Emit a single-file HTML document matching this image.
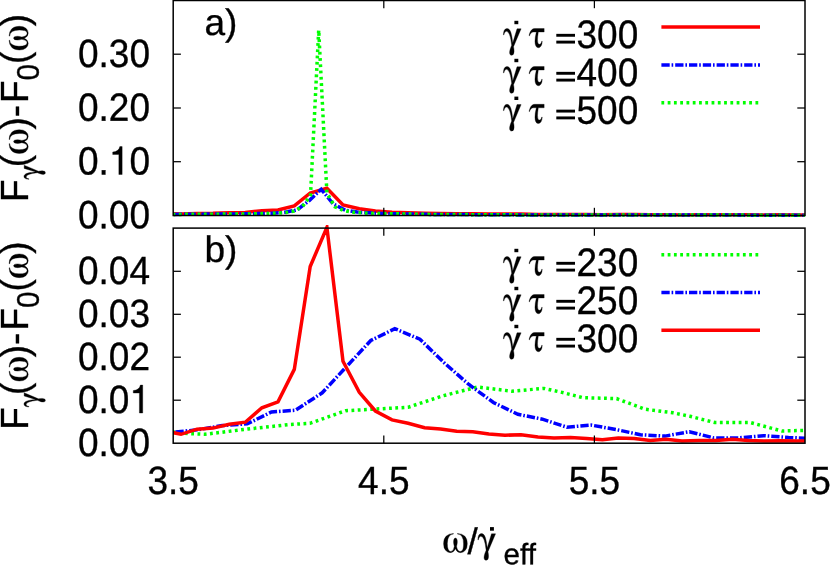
<!DOCTYPE html>
<html><head><meta charset="utf-8"><title>chart</title>
<style>html,body{margin:0;padding:0;background:#fff;}svg{display:block;will-change:transform;}text{fill:#000;stroke:#000;stroke-width:0.33px;font-family:"Liberation Sans", sans-serif;}</style></head><body>
<svg width="830" height="566" viewBox="0 0 830 566">
<rect width="830" height="566" fill="#fff"/>
<defs><clipPath id="c1"><rect x="173.2" y="-2.5" width="631.8" height="220.2"/></clipPath>
<clipPath id="c2"><rect x="173.2" y="225.1" width="631.8" height="220.1"/></clipPath></defs>
<g clip-path="url(#c1)">
<polyline points="165.1,213.6 181.0,214.0 197.0,213.4 213.0,213.3 229.3,212.8 245.3,212.5 261.9,210.7 278.0,210.0 294.3,205.9 310.2,193.0 326.9,188.2 343.0,204.9 359.3,208.8 375.4,211.1 392.0,212.2 408.1,212.7 424.6,213.2 440.6,213.4 456.7,213.7 472.8,213.7 488.9,214.0 505.0,214.1 521.0,214.1 538.0,214.4 554.0,214.5 570.6,214.4 586.5,214.5 602.4,214.7 618.3,214.5 634.2,214.5 650.2,214.8 666.1,214.7 682.0,214.9 699.0,214.8 715.9,214.8 732.4,214.7 748.3,214.8 764.5,214.9 780.7,214.8 796.9,214.9 813.1,214.9" fill="none" stroke="#ff0000" stroke-width="3.5" stroke-linejoin="miter" stroke-linecap="butt"/>
<polyline points="160.0,214.5 200.0,214.2 249.0,213.8 273.0,213.2 285.2,212.2 297.2,209.9 309.2,200.6 321.2,189.3 333.2,204.0 345.2,210.1 357.2,212.1 381.0,213.5 430.0,214.4 520.0,214.9 820.0,215.2" fill="none" stroke="#0000ff" stroke-width="3.5" stroke-linejoin="miter" stroke-linecap="butt" stroke-dasharray="8.3 1.9 1.6 2" stroke-dashoffset="0"/>
<polyline points="160.0,214.5 200.0,214.3 250.0,213.9 277.8,213.2 286.0,212.5 294.1,211.0 302.3,206.8 310.5,195.5 318.7,30.1 326.9,193.0 335.0,206.8 343.2,210.4 351.4,212.1 368.0,213.3 430.0,214.4 520.0,214.9 820.0,215.2" fill="none" stroke="#00ff00" stroke-width="3.5" stroke-linejoin="miter" stroke-linecap="butt" stroke-dasharray="2.8 3.47" stroke-dashoffset="0"/>
</g>
<rect x="173.2" y="0.5" width="631.8" height="215.0" fill="none" stroke="#000" stroke-width="1.5"/>
<line x1="383.8" y1="215.5" x2="383.8" y2="207.8" stroke="#000" stroke-width="1.25"/>
<line x1="383.8" y1="0.5" x2="383.8" y2="8.2" stroke="#000" stroke-width="1.25"/>
<line x1="594.4" y1="215.5" x2="594.4" y2="207.8" stroke="#000" stroke-width="1.25"/>
<line x1="594.4" y1="0.5" x2="594.4" y2="8.2" stroke="#000" stroke-width="1.25"/>
<line x1="173.2" y1="161.7" x2="180.9" y2="161.7" stroke="#000" stroke-width="1.25"/>
<line x1="805.0" y1="161.7" x2="797.3" y2="161.7" stroke="#000" stroke-width="1.25"/>
<line x1="173.2" y1="108.0" x2="180.9" y2="108.0" stroke="#000" stroke-width="1.25"/>
<line x1="805.0" y1="108.0" x2="797.3" y2="108.0" stroke="#000" stroke-width="1.25"/>
<line x1="173.2" y1="54.2" x2="180.9" y2="54.2" stroke="#000" stroke-width="1.25"/>
<line x1="805.0" y1="54.2" x2="797.3" y2="54.2" stroke="#000" stroke-width="1.25"/>
<g clip-path="url(#c2)">
<polyline points="160.0,431.0 173.0,432.0 190.0,433.7 205.0,434.3 248.0,429.0 290.0,424.5 310.0,423.3 345.7,410.7 408.0,407.3 443.0,395.8 477.4,387.0 511.8,391.2 544.0,388.4 562.0,392.4 583.0,397.7 616.6,398.6 645.0,409.2 673.0,412.8 690.0,416.3 714.7,422.5 750.0,422.5 782.0,431.0 812.0,430.2" fill="none" stroke="#00ff00" stroke-width="3.5" stroke-linejoin="miter" stroke-linecap="butt" stroke-dasharray="2.8 3.47" stroke-dashoffset="0"/>
<polyline points="148.0,434.5 172.6,432.3 197.4,429.8 222.3,425.6 247.2,423.9 271.5,412.0 295.5,410.2 322.2,392.8 346.5,366.6 370.8,340.5 394.8,328.7 419.9,339.2 444.4,363.0 468.9,384.5 493.4,402.5 517.9,414.3 542.4,419.2 566.9,427.2 591.0,425.1 615.9,429.5 640.4,434.8 664.9,436.1 689.4,431.7 713.9,437.9 738.4,437.9 763.5,435.7 788.5,437.5 813.0,438.6" fill="none" stroke="#0000ff" stroke-width="3.5" stroke-linejoin="miter" stroke-linecap="butt" stroke-dasharray="8.3 1.9 1.6 2" stroke-dashoffset="0"/>
<polyline points="165.1,431.0 181.0,434.3 197.0,429.2 213.0,428.1 229.3,424.2 245.3,422.2 261.9,407.8 278.0,401.9 294.3,369.4 310.2,266.5 326.9,227.4 343.0,361.2 359.3,392.3 375.4,411.0 392.0,419.9 408.1,423.3 424.6,427.7 440.6,429.0 456.7,431.3 472.8,431.8 488.9,434.1 505.0,435.2 521.0,434.8 538.0,437.1 554.0,437.9 570.6,437.5 586.5,438.4 602.4,439.8 618.3,437.9 634.2,438.4 650.2,440.5 666.1,439.3 682.0,441.0 699.0,440.4 715.9,440.6 732.4,439.3 748.3,440.4 764.5,441.0 780.7,440.8 796.9,441.0 813.1,441.0" fill="none" stroke="#ff0000" stroke-width="3.5" stroke-linejoin="miter" stroke-linecap="butt"/>
</g>
<rect x="173.2" y="228.1" width="631.8" height="215.1" fill="none" stroke="#000" stroke-width="1.5"/>
<line x1="383.8" y1="443.2" x2="383.8" y2="435.5" stroke="#000" stroke-width="1.25"/>
<line x1="383.8" y1="228.1" x2="383.8" y2="235.8" stroke="#000" stroke-width="1.25"/>
<line x1="594.4" y1="443.2" x2="594.4" y2="435.5" stroke="#000" stroke-width="1.25"/>
<line x1="594.4" y1="228.1" x2="594.4" y2="235.8" stroke="#000" stroke-width="1.25"/>
<line x1="173.2" y1="400.2" x2="180.9" y2="400.2" stroke="#000" stroke-width="1.25"/>
<line x1="805.0" y1="400.2" x2="797.3" y2="400.2" stroke="#000" stroke-width="1.25"/>
<line x1="173.2" y1="357.2" x2="180.9" y2="357.2" stroke="#000" stroke-width="1.25"/>
<line x1="805.0" y1="357.2" x2="797.3" y2="357.2" stroke="#000" stroke-width="1.25"/>
<line x1="173.2" y1="314.3" x2="180.9" y2="314.3" stroke="#000" stroke-width="1.25"/>
<line x1="805.0" y1="314.3" x2="797.3" y2="314.3" stroke="#000" stroke-width="1.25"/>
<line x1="173.2" y1="271.3" x2="180.9" y2="271.3" stroke="#000" stroke-width="1.25"/>
<line x1="805.0" y1="271.3" x2="797.3" y2="271.3" stroke="#000" stroke-width="1.25"/>
<text transform="translate(150.0,228.3) scale(1,1.065) rotate(0.03)" font-size="37.0" text-anchor="end">0.00</text>
<text transform="translate(108.9,174.5) scale(1,1.065) rotate(0.03)" font-size="37.0" text-anchor="end">0.</text>
<path transform="translate(108.86,174.53) scale(37.0,39.405)" d="M0.359,0 L0.359,-0.709 L0.296,-0.709 C0.280,-0.625 0.215,-0.578 0.104,-0.570 L0.104,-0.508 L0.270,-0.508 L0.270,0 Z" fill="#000" stroke="#000" stroke-width="0.0089"/>
<text transform="translate(150.0,174.5) scale(1,1.065) rotate(0.03)" font-size="37.0" text-anchor="end">0</text>
<text transform="translate(150.0,120.8) scale(1,1.065) rotate(0.03)" font-size="37.0" text-anchor="end">0.20</text>
<text transform="translate(150.0,67.0) scale(1,1.065) rotate(0.03)" font-size="37.0" text-anchor="end">0.30</text>
<text transform="translate(150.0,456.0) scale(1,1.065) rotate(0.03)" font-size="37.0" text-anchor="end">0.00</text>
<text transform="translate(129.4,413.0) scale(1,1.065) rotate(0.03)" font-size="37.0" text-anchor="end">0.0</text>
<path transform="translate(129.43,413.03) scale(37.0,39.405)" d="M0.359,0 L0.359,-0.709 L0.296,-0.709 C0.280,-0.625 0.215,-0.578 0.104,-0.570 L0.104,-0.508 L0.270,-0.508 L0.270,0 Z" fill="#000" stroke="#000" stroke-width="0.0089"/>
<text transform="translate(150.0,370.1) scale(1,1.065) rotate(0.03)" font-size="37.0" text-anchor="end">0.02</text>
<text transform="translate(150.0,327.1) scale(1,1.065) rotate(0.03)" font-size="37.0" text-anchor="end">0.03</text>
<text transform="translate(150.0,284.1) scale(1,1.065) rotate(0.03)" font-size="37.0" text-anchor="end">0.04</text>
<text transform="translate(173.2,494.0) scale(1,1.065) rotate(0.03)" font-size="37.0" text-anchor="middle">3.5</text>
<text transform="translate(383.8,494.0) scale(1,1.065) rotate(0.03)" font-size="37.0" text-anchor="middle">4.5</text>
<text transform="translate(594.4,494.0) scale(1,1.065) rotate(0.03)" font-size="37.0" text-anchor="middle">5.5</text>
<text transform="translate(805.0,494.0) scale(1,1.065) rotate(0.03)" font-size="37.0" text-anchor="middle">6.5</text>
<text transform="translate(204.5,35.0) scale(1,1.0) rotate(0.03)" font-size="37.0" text-anchor="start">a)</text>
<text transform="translate(204.5,262.0) scale(1,1.0) rotate(0.03)" font-size="37.0" text-anchor="start">b)</text>
<line x1="661.4" y1="26.9" x2="760.0" y2="26.9" stroke="#ff0000" stroke-width="3.5"/>
<path transform="matrix(0.04084,0,0,-0.03969,502.98,46.67)" d="M444 450 258 0Q272 -63 272 -118Q272 -218 211 -218Q187 -218 174 -199Q162 -180 162 -150Q162 -109 180 -52Q181 -47 213 36Q175 387 83 387Q65 387 48 364Q30 341 25 299H10Q10 365 32 411Q54 457 97 457Q130 457 154 430Q179 402 194 354Q208 305 216 263Q224 221 230 166Q237 111 240 97L344 450Z" fill="#000" stroke="#000" stroke-width="8.3" stroke-linejoin="round"/>
<rect x="514.4" y="20.8" width="3.9" height="3.4" fill="#000"/>
<path transform="matrix(0.03439,0,0,-0.04175,528.96,47.29)" d="M442 366H272Q249 242 249 182Q249 73 302 73Q327 73 346 92Q364 110 371 143H386Q386 81 356 36Q325 -10 277 -10Q221 -10 198 34Q174 77 174 142Q174 232 214 366H132Q92 366 62 342Q32 317 18 276H3Q10 314 28 352Q45 389 81 420Q117 450 162 450H442Z" fill="#000" stroke="#000" stroke-width="8.3" stroke-linejoin="round"/>
<rect x="556.3" y="33.85" width="18.7" height="2.9" fill="#000"/><rect x="556.3" y="40.65" width="18.7" height="2.9" fill="#000"/>
<text transform="translate(576.5,48.0) scale(1,1.075) rotate(0.03)" font-size="37.0" text-anchor="start">300</text>
<line x1="661.4" y1="64.9" x2="760.0" y2="64.9" stroke="#0000ff" stroke-width="3.5" stroke-dasharray="8.3 1.9 1.6 2"/>
<path transform="matrix(0.04084,0,0,-0.03969,502.98,84.67)" d="M444 450 258 0Q272 -63 272 -118Q272 -218 211 -218Q187 -218 174 -199Q162 -180 162 -150Q162 -109 180 -52Q181 -47 213 36Q175 387 83 387Q65 387 48 364Q30 341 25 299H10Q10 365 32 411Q54 457 97 457Q130 457 154 430Q179 402 194 354Q208 305 216 263Q224 221 230 166Q237 111 240 97L344 450Z" fill="#000" stroke="#000" stroke-width="8.3" stroke-linejoin="round"/>
<rect x="514.4" y="58.8" width="3.9" height="3.4" fill="#000"/>
<path transform="matrix(0.03439,0,0,-0.04175,528.96,85.29)" d="M442 366H272Q249 242 249 182Q249 73 302 73Q327 73 346 92Q364 110 371 143H386Q386 81 356 36Q325 -10 277 -10Q221 -10 198 34Q174 77 174 142Q174 232 214 366H132Q92 366 62 342Q32 317 18 276H3Q10 314 28 352Q45 389 81 420Q117 450 162 450H442Z" fill="#000" stroke="#000" stroke-width="8.3" stroke-linejoin="round"/>
<rect x="556.3" y="71.85" width="18.7" height="2.9" fill="#000"/><rect x="556.3" y="78.65" width="18.7" height="2.9" fill="#000"/>
<text transform="translate(576.5,86.0) scale(1,1.075) rotate(0.03)" font-size="37.0" text-anchor="start">400</text>
<line x1="661.4" y1="102.7" x2="760.0" y2="102.7" stroke="#00ff00" stroke-width="3.5" stroke-dasharray="2.8 3.47"/>
<path transform="matrix(0.04084,0,0,-0.03969,502.98,122.47)" d="M444 450 258 0Q272 -63 272 -118Q272 -218 211 -218Q187 -218 174 -199Q162 -180 162 -150Q162 -109 180 -52Q181 -47 213 36Q175 387 83 387Q65 387 48 364Q30 341 25 299H10Q10 365 32 411Q54 457 97 457Q130 457 154 430Q179 402 194 354Q208 305 216 263Q224 221 230 166Q237 111 240 97L344 450Z" fill="#000" stroke="#000" stroke-width="8.3" stroke-linejoin="round"/>
<rect x="514.4" y="96.6" width="3.9" height="3.4" fill="#000"/>
<path transform="matrix(0.03439,0,0,-0.04175,528.96,123.09)" d="M442 366H272Q249 242 249 182Q249 73 302 73Q327 73 346 92Q364 110 371 143H386Q386 81 356 36Q325 -10 277 -10Q221 -10 198 34Q174 77 174 142Q174 232 214 366H132Q92 366 62 342Q32 317 18 276H3Q10 314 28 352Q45 389 81 420Q117 450 162 450H442Z" fill="#000" stroke="#000" stroke-width="8.3" stroke-linejoin="round"/>
<rect x="556.3" y="109.65" width="18.7" height="2.9" fill="#000"/><rect x="556.3" y="116.45" width="18.7" height="2.9" fill="#000"/>
<text transform="translate(576.5,123.8) scale(1,1.075) rotate(0.03)" font-size="37.0" text-anchor="start">500</text>
<line x1="661.4" y1="254.7" x2="760.0" y2="254.7" stroke="#00ff00" stroke-width="3.5" stroke-dasharray="2.8 3.47"/>
<path transform="matrix(0.04084,0,0,-0.03969,502.98,274.67)" d="M444 450 258 0Q272 -63 272 -118Q272 -218 211 -218Q187 -218 174 -199Q162 -180 162 -150Q162 -109 180 -52Q181 -47 213 36Q175 387 83 387Q65 387 48 364Q30 341 25 299H10Q10 365 32 411Q54 457 97 457Q130 457 154 430Q179 402 194 354Q208 305 216 263Q224 221 230 166Q237 111 240 97L344 450Z" fill="#000" stroke="#000" stroke-width="8.3" stroke-linejoin="round"/>
<rect x="514.4" y="248.8" width="3.9" height="3.4" fill="#000"/>
<path transform="matrix(0.03439,0,0,-0.04175,528.96,275.29)" d="M442 366H272Q249 242 249 182Q249 73 302 73Q327 73 346 92Q364 110 371 143H386Q386 81 356 36Q325 -10 277 -10Q221 -10 198 34Q174 77 174 142Q174 232 214 366H132Q92 366 62 342Q32 317 18 276H3Q10 314 28 352Q45 389 81 420Q117 450 162 450H442Z" fill="#000" stroke="#000" stroke-width="8.3" stroke-linejoin="round"/>
<rect x="556.3" y="261.85" width="18.7" height="2.9" fill="#000"/><rect x="556.3" y="268.65" width="18.7" height="2.9" fill="#000"/>
<text transform="translate(576.5,276.0) scale(1,1.075) rotate(0.03)" font-size="37.0" text-anchor="start">230</text>
<line x1="661.4" y1="292.4" x2="760.0" y2="292.4" stroke="#0000ff" stroke-width="3.5" stroke-dasharray="8.3 1.9 1.6 2"/>
<path transform="matrix(0.04084,0,0,-0.03969,502.98,312.67)" d="M444 450 258 0Q272 -63 272 -118Q272 -218 211 -218Q187 -218 174 -199Q162 -180 162 -150Q162 -109 180 -52Q181 -47 213 36Q175 387 83 387Q65 387 48 364Q30 341 25 299H10Q10 365 32 411Q54 457 97 457Q130 457 154 430Q179 402 194 354Q208 305 216 263Q224 221 230 166Q237 111 240 97L344 450Z" fill="#000" stroke="#000" stroke-width="8.3" stroke-linejoin="round"/>
<rect x="514.4" y="286.8" width="3.9" height="3.4" fill="#000"/>
<path transform="matrix(0.03439,0,0,-0.04175,528.96,313.29)" d="M442 366H272Q249 242 249 182Q249 73 302 73Q327 73 346 92Q364 110 371 143H386Q386 81 356 36Q325 -10 277 -10Q221 -10 198 34Q174 77 174 142Q174 232 214 366H132Q92 366 62 342Q32 317 18 276H3Q10 314 28 352Q45 389 81 420Q117 450 162 450H442Z" fill="#000" stroke="#000" stroke-width="8.3" stroke-linejoin="round"/>
<rect x="556.3" y="299.85" width="18.7" height="2.9" fill="#000"/><rect x="556.3" y="306.65" width="18.7" height="2.9" fill="#000"/>
<text transform="translate(576.5,314.0) scale(1,1.075) rotate(0.03)" font-size="37.0" text-anchor="start">250</text>
<line x1="661.4" y1="330.2" x2="760.0" y2="330.2" stroke="#ff0000" stroke-width="3.5"/>
<path transform="matrix(0.04084,0,0,-0.03969,502.98,350.67)" d="M444 450 258 0Q272 -63 272 -118Q272 -218 211 -218Q187 -218 174 -199Q162 -180 162 -150Q162 -109 180 -52Q181 -47 213 36Q175 387 83 387Q65 387 48 364Q30 341 25 299H10Q10 365 32 411Q54 457 97 457Q130 457 154 430Q179 402 194 354Q208 305 216 263Q224 221 230 166Q237 111 240 97L344 450Z" fill="#000" stroke="#000" stroke-width="8.3" stroke-linejoin="round"/>
<rect x="514.4" y="324.8" width="3.9" height="3.4" fill="#000"/>
<path transform="matrix(0.03439,0,0,-0.04175,528.96,351.29)" d="M442 366H272Q249 242 249 182Q249 73 302 73Q327 73 346 92Q364 110 371 143H386Q386 81 356 36Q325 -10 277 -10Q221 -10 198 34Q174 77 174 142Q174 232 214 366H132Q92 366 62 342Q32 317 18 276H3Q10 314 28 352Q45 389 81 420Q117 450 162 450H442Z" fill="#000" stroke="#000" stroke-width="8.3" stroke-linejoin="round"/>
<rect x="556.3" y="337.85" width="18.7" height="2.9" fill="#000"/><rect x="556.3" y="344.65" width="18.7" height="2.9" fill="#000"/>
<text transform="translate(576.5,352.0) scale(1,1.075) rotate(0.03)" font-size="37.0" text-anchor="start">300</text>
<g transform="translate(27.6,202.1) rotate(-90)"><text transform="translate(0.00,0.0) scale(1,1.04)" font-size="37.0">F</text><path transform="matrix(0.03267,0,0,-0.03175,22.43,10.84)" d="M444 450 258 0Q272 -63 272 -118Q272 -218 211 -218Q187 -218 174 -199Q162 -180 162 -150Q162 -109 180 -52Q181 -47 213 36Q175 387 83 387Q65 387 48 364Q30 341 25 299H10Q10 365 32 411Q54 457 97 457Q130 457 154 430Q179 402 194 354Q208 305 216 263Q224 221 230 166Q237 111 240 97L344 450Z" fill="#000" stroke="#000" stroke-width="10.3" stroke-linejoin="round"/><text transform="translate(34.77,0.0) scale(1,1.04)" font-size="37.0">(</text><path transform="matrix(0.04197,0,0,-0.04070,47.43,0.22)" d="M361 445V460Q467 460 531 398Q595 336 595 211Q595 102 547 46Q499 -10 436 -10Q348 -10 312 86Q270 -10 186 -10Q127 -10 77 46Q29 101 29 209Q29 334 94 397Q159 460 263 460V445Q199 445 159 385Q119 325 119 218Q119 18 200 18Q266 18 285 146Q267 205 267 251Q267 349 312 349Q331 349 344 325Q357 301 357 253Q357 209 339 146Q345 88 369 53Q393 18 421 18Q448 18 466 34Q484 49 492 80Q500 110 502 138Q505 167 505 208Q505 323 468 384Q431 445 361 445Z" fill="#000" stroke="#000" stroke-width="8.3" stroke-linejoin="round"/><text transform="translate(72.48,0.0) scale(1,1.04)" font-size="37.0">)-</text><text transform="translate(99.12,0.0) scale(1,1.04)" font-size="37.0">F</text><text transform="translate(121.72,11.1) scale(1,1.04)" font-size="29.6">0</text><text transform="translate(138.18,0.0) scale(1,1.04)" font-size="37.0">(</text><path transform="matrix(0.04197,0,0,-0.04070,150.84,0.22)" d="M361 445V460Q467 460 531 398Q595 336 595 211Q595 102 547 46Q499 -10 436 -10Q348 -10 312 86Q270 -10 186 -10Q127 -10 77 46Q29 101 29 209Q29 334 94 397Q159 460 263 460V445Q199 445 159 385Q119 325 119 218Q119 18 200 18Q266 18 285 146Q267 205 267 251Q267 349 312 349Q331 349 344 325Q357 301 357 253Q357 209 339 146Q345 88 369 53Q393 18 421 18Q448 18 466 34Q484 49 492 80Q500 110 502 138Q505 167 505 208Q505 323 468 384Q431 445 361 445Z" fill="#000" stroke="#000" stroke-width="8.3" stroke-linejoin="round"/><text transform="translate(175.89,0.0) scale(1,1.04)" font-size="37.0">)</text></g>
<g transform="translate(27.6,429.7) rotate(-90)"><text transform="translate(0.00,0.0) scale(1,1.04)" font-size="37.0">F</text><path transform="matrix(0.03267,0,0,-0.03175,22.43,10.84)" d="M444 450 258 0Q272 -63 272 -118Q272 -218 211 -218Q187 -218 174 -199Q162 -180 162 -150Q162 -109 180 -52Q181 -47 213 36Q175 387 83 387Q65 387 48 364Q30 341 25 299H10Q10 365 32 411Q54 457 97 457Q130 457 154 430Q179 402 194 354Q208 305 216 263Q224 221 230 166Q237 111 240 97L344 450Z" fill="#000" stroke="#000" stroke-width="10.3" stroke-linejoin="round"/><text transform="translate(34.77,0.0) scale(1,1.04)" font-size="37.0">(</text><path transform="matrix(0.04197,0,0,-0.04070,47.43,0.22)" d="M361 445V460Q467 460 531 398Q595 336 595 211Q595 102 547 46Q499 -10 436 -10Q348 -10 312 86Q270 -10 186 -10Q127 -10 77 46Q29 101 29 209Q29 334 94 397Q159 460 263 460V445Q199 445 159 385Q119 325 119 218Q119 18 200 18Q266 18 285 146Q267 205 267 251Q267 349 312 349Q331 349 344 325Q357 301 357 253Q357 209 339 146Q345 88 369 53Q393 18 421 18Q448 18 466 34Q484 49 492 80Q500 110 502 138Q505 167 505 208Q505 323 468 384Q431 445 361 445Z" fill="#000" stroke="#000" stroke-width="8.3" stroke-linejoin="round"/><text transform="translate(72.48,0.0) scale(1,1.04)" font-size="37.0">)-</text><text transform="translate(99.12,0.0) scale(1,1.04)" font-size="37.0">F</text><text transform="translate(121.72,11.1) scale(1,1.04)" font-size="29.6">0</text><text transform="translate(138.18,0.0) scale(1,1.04)" font-size="37.0">(</text><path transform="matrix(0.04197,0,0,-0.04070,150.84,0.22)" d="M361 445V460Q467 460 531 398Q595 336 595 211Q595 102 547 46Q499 -10 436 -10Q348 -10 312 86Q270 -10 186 -10Q127 -10 77 46Q29 101 29 209Q29 334 94 397Q159 460 263 460V445Q199 445 159 385Q119 325 119 218Q119 18 200 18Q266 18 285 146Q267 205 267 251Q267 349 312 349Q331 349 344 325Q357 301 357 253Q357 209 339 146Q345 88 369 53Q393 18 421 18Q448 18 466 34Q484 49 492 80Q500 110 502 138Q505 167 505 208Q505 323 468 384Q431 445 361 445Z" fill="#000" stroke="#000" stroke-width="8.3" stroke-linejoin="round"/><text transform="translate(175.89,0.0) scale(1,1.04)" font-size="37.0">)</text></g>
<path transform="matrix(0.04197,0,0,-0.04070,442.34,552.22)" d="M361 445V460Q467 460 531 398Q595 336 595 211Q595 102 547 46Q499 -10 436 -10Q348 -10 312 86Q270 -10 186 -10Q127 -10 77 46Q29 101 29 209Q29 334 94 397Q159 460 263 460V445Q199 445 159 385Q119 325 119 218Q119 18 200 18Q266 18 285 146Q267 205 267 251Q267 349 312 349Q331 349 344 325Q357 301 357 253Q357 209 339 146Q345 88 369 53Q393 18 421 18Q448 18 466 34Q484 49 492 80Q500 110 502 138Q505 167 505 208Q505 323 468 384Q431 445 361 445Z" fill="#000" stroke="#000" stroke-width="8.3" stroke-linejoin="round"/>
<text transform="translate(467.4,554.0) scale(1,1.0) rotate(0.03)" font-size="37.0" text-anchor="start">/</text>
<path transform="matrix(0.04084,0,0,-0.03969,477.44,551.67)" d="M444 450 258 0Q272 -63 272 -118Q272 -218 211 -218Q187 -218 174 -199Q162 -180 162 -150Q162 -109 180 -52Q181 -47 213 36Q175 387 83 387Q65 387 48 364Q30 341 25 299H10Q10 365 32 411Q54 457 97 457Q130 457 154 430Q179 402 194 354Q208 305 216 263Q224 221 230 166Q237 111 240 97L344 450Z" fill="#000" stroke="#000" stroke-width="8.3" stroke-linejoin="round"/>
<rect x="490.0" y="527.1" width="3.9" height="3.6" fill="#000"/>
<text transform="translate(503.6,564.2) scale(1,1.0) rotate(0.03)" font-size="29.6" text-anchor="start">eff</text>
</svg></body></html>
